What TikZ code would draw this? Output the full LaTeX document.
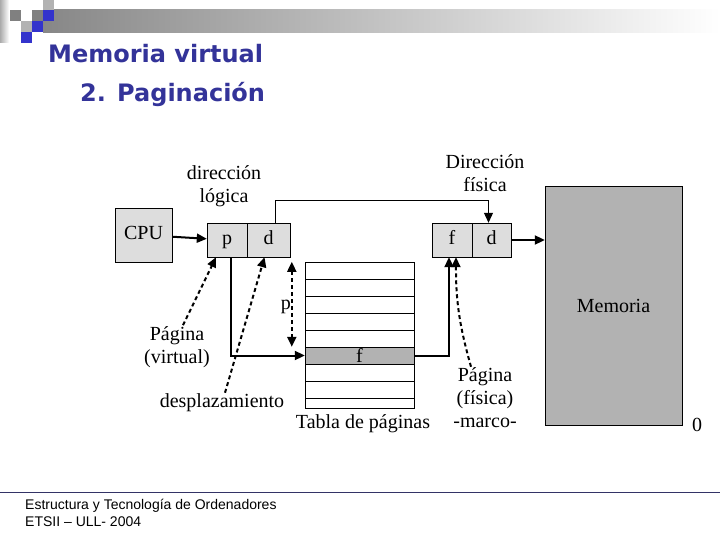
\documentclass[tikz,border=0pt]{standalone}
\usepackage{fontspec}
\setmainfont{Liberation Serif}
\setsansfont{Liberation Sans}
\newfontfamily\titlefont{DejaVu Sans}
\usetikzlibrary{arrows.meta}

\definecolor{titleblue}{RGB}{51,51,153}
\definecolor{sqblue}{RGB}{51,51,204}
\definecolor{sqgray}{RGB}{128,128,128}
\definecolor{sqlight}{RGB}{178,178,178}
\definecolor{hdrgray}{RGB}{135,135,135}
\definecolor{cellgray}{RGB}{221,221,221}
\definecolor{memgray}{RGB}{178,178,178}
\definecolor{footline}{RGB}{51,51,102}

\newcommand{\diagfont}{\fontsize{20}{23}\selectfont}

\begin{document}
\begin{tikzpicture}[x=1pt,y=-1pt]

    \tikzstyle{cell} = [draw, fill=cellgray, minimum width=40pt, minimum height=34pt, inner sep=0pt, font=\diagfont, text height=13pt, text depth=4pt]
    \tikzstyle{row} = [draw, minimum width=109pt, minimum height=17pt, inner sep=0pt, font=\diagfont]
    \tikzstyle{lbl} = [align=center, font=\diagfont, inner sep=1pt]
    \tikzstyle{arr} = [arrows=-{Triangle[length=10pt,width=9pt]}, line width=2pt]
    \tikzstyle{thinarr} = [arrows=-{Triangle[length=10pt,width=9pt]}, line width=1pt]
    \tikzstyle{dasharr} = [arrows=-{Triangle[length=10pt,width=9pt]}, line width=2pt, dash pattern=on 4pt off 3pt]

    \useasboundingbox (0,0) rectangle (720,540);

    % Header
    \shade[left color=hdrgray, right color=white] (43,10) rectangle (720,33);
    \shade[left color=hdrgray!70, right color=white] (0,0) rectangle (9,43);
    \fill[sqgray] (10,10) rectangle (21,21);
    \fill[sqgray] (32,10) rectangle (43,21);
    \fill[sqlight] (43,0) rectangle (54,10);
    \fill[sqlight] (21,21) rectangle (32,32);
    \fill[sqblue] (43,10) rectangle (54,21);
    \fill[sqblue] (32,21) rectangle (43,32);
    \fill[sqblue] (21,32) rectangle (32,43);

    \node[anchor=base west, inner sep=0pt, text=titleblue, font=\titlefont\bfseries\fontsize{24}{28}\selectfont] (title) at (48,63) {Memoria virtual};
    \node[anchor=base west, inner sep=0pt, text=titleblue, font=\titlefont\bfseries\fontsize{24}{28}\selectfont] (subtitle) at (80,102) {2. Paginación};

    % Addresses
    \node[cell, minimum width=57pt, minimum height=54pt] (cpu) at (143.5,235) {CPU};
    \node[cell] (pcell) at (227,240) {p};
    \node[cell, minimum width=43pt] (dcell) at (268.5,240) {d};
    \node[cell] (fcell) at (452,240) {f};
    \node[cell, minimum width=39pt] (d2cell) at (491.5,240) {d};
    \node[lbl] (dlog) at (224,186) {dirección\\lógica};
    \node[lbl] (dfis) at (485,173) {Dirección\\física};

    % Memory
    \node[draw, fill=memgray, minimum width=137pt, minimum height=239pt, inner sep=0pt, font=\diagfont] (mem) at (613.5,305.5) {Memoria};
    \node[lbl] (zero) at (697,425) {0};

    % Page table
    \foreach \i in {0,...,7}
        \node[row] (r\i) at (359.5,270.5+17*\i) {};
    \node[row, minimum height=10pt] (r8) at (359.5,403) {};
    \node[row, fill=memgray] at (r5) {f};
    \node[lbl] (tabla) at (363,424) {Tabla de páginas};

    \node[lbl] (pv) at (177,347) {Página\\(virtual)};
    \node[lbl] (desp) at (222,403) {desplazamiento};
    \node[lbl] (pfis) at (485,398) {Página\\(física)\\-marco-};
    \node[lbl, anchor=east] (plbl) at (292,307) {p};

    % Connectors
    \draw[arr] (cpu) -- (pcell);
    \draw[arr] (d2cell) -- (d2cell -| mem.west);
    \draw[thinarr] ([xshift=7pt]dcell.north) -- ++(0,-22) -| ([xshift=-3pt]d2cell.north);
    \draw[arr] ([xshift=4pt]pcell.south) |- (r5.west);
    \draw[arr] (r5.east) -| ([xshift=-3pt]fcell.south);

    \draw[dasharr, arrows={Triangle[length=10pt,width=9pt]}-{Triangle[length=10pt,width=9pt]}]
        ([xshift=-13pt]r0.north west) -- ([xshift=-13pt]r5.north west);
    \draw[dasharr] ([xshift=6pt]pv.north) -- ([xshift=-11pt]pcell.south);
    \draw[dasharr] ([xshift=3pt]desp.north) -- ([xshift=-4pt]dcell.south);
    \draw[dasharr] ([xshift=-14pt]pfis.north) to[bend left=8] ([xshift=4pt]fcell.south);

    % Footer
    \draw[footline, line width=1pt] (0,492) -- (720,492);
    \node[anchor=base west, inner sep=0pt, font=\sffamily\fontsize{14}{16}\selectfont] (foot1) at (25,509) {Estructura y Tecnología de Ordenadores};
    \node[anchor=base west, inner sep=0pt, font=\sffamily\fontsize{14}{16}\selectfont] (foot2) at (25,526) {ETSII – ULL- 2004};

\end{tikzpicture}
\end{document}
